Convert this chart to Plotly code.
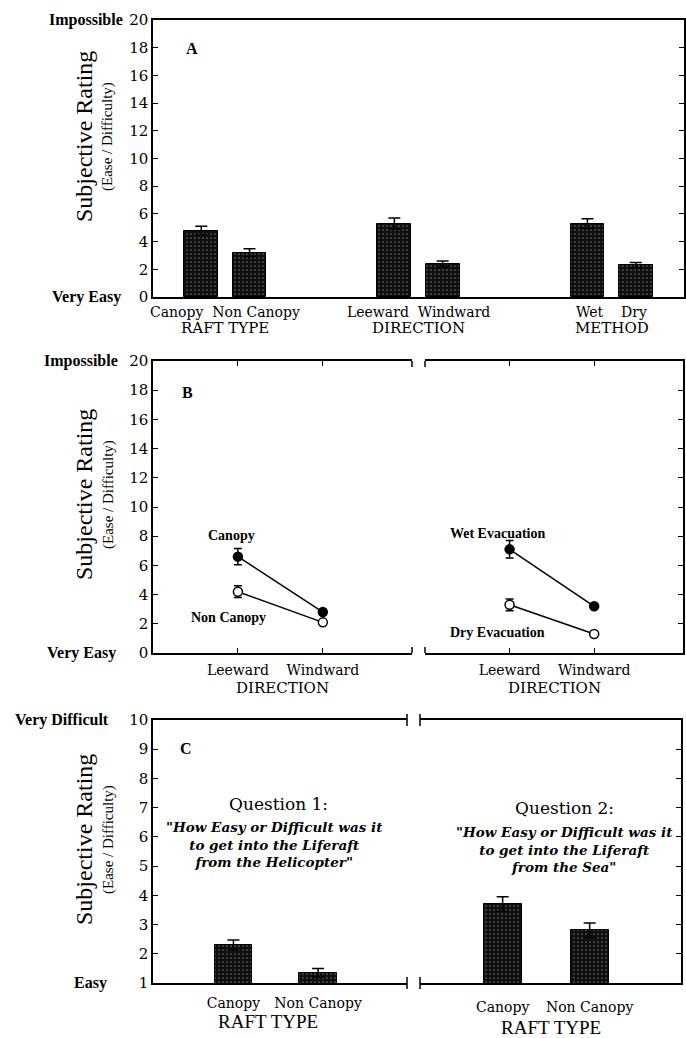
import plotly.graph_objects as go

W, H = 686, 1038

# ---------------- data ----------------
# Panel A
a_groups = ["RAFT TYPE", "DIRECTION", "METHOD"]
a_labels = ["Canopy", "Non Canopy", "Leeward", "Windward", "Wet", "Dry"]
a_group_of = [0, 0, 1, 1, 2, 2]
a_means = [4.8, 3.2, 5.3, 2.4, 5.3, 2.3]
a_err = [0.3, 0.28, 0.4, 0.2, 0.35, 0.2]

# Panel B
b_x = ["Leeward", "Windward"]
b_canopy = [6.6, 2.8]
b_canopy_err = [0.55, 0.2]
b_noncanopy = [4.2, 2.1]
b_noncanopy_err = [0.4, 0.12]
b_wet = [7.1, 3.2]
b_wet_err = [0.6, 0.15]
b_dry = [3.3, 1.3]
b_dry_err = [0.4, 0.12]

# Panel C
c_x = ["Canopy", "Non Canopy"]
c_q1 = [2.3, 1.35]
c_q1_err = [0.17, 0.15]
c_q2 = [3.7, 2.8]
c_q2_err = [0.25, 0.25]

q1_title = "Question 1:"
q1_text = ["\"How Easy or Difficult was it", "to get into the Liferaft", "from the Helicopter\""]
q2_title = "Question 2:"
q2_text = ["\"How Easy or Difficult was it", "to get into the Liferaft", "from the Sea\""]

# ---------------- helpers ----------------
def px(x):
    return x / W

def py(y):
    return 1 - y / H

SERIF = "DejaVu Serif"
TIMES = "Liberation Serif"
BLACK = "black"

bar_marker = dict(
    color="#101010",
    line=dict(color=BLACK, width=1),
    pattern=dict(shape=".", fgcolor="#c8c8c8", bgcolor="#101010", size=4, solidity=0.14),
)
bar_err = lambda arr: dict(type="data", array=arr, color=BLACK, thickness=1.5, width=6)

fig = go.Figure()

# positions for panel A computed from group membership
a_pos = []
for i, g in enumerate(a_group_of):
    k = a_group_of[:i].count(g)
    a_pos.append(g * 4 + k + 1)

fig.add_trace(go.Bar(x=a_pos, y=a_means, width=0.7, marker=bar_marker,
                     error_y=bar_err(a_err), xaxis="x", yaxis="y", showlegend=False))

# Panel B
def line_trace(x, y, e, filled, xa, ya):
    return go.Scatter(
        x=x, y=y, mode="lines+markers", xaxis=xa, yaxis=ya, showlegend=False,
        line=dict(color=BLACK, width=1.5),
        marker=dict(size=9, color=BLACK if filled else "white", line=dict(color=BLACK, width=1.5)),
        error_y=dict(type="data", array=e, color=BLACK, thickness=1.5, width=4),
    )

fig.add_trace(line_trace(b_x, b_canopy, b_canopy_err, True, "x2", "y2"))
fig.add_trace(line_trace(b_x, b_noncanopy, b_noncanopy_err, False, "x2", "y2"))
fig.add_trace(line_trace(b_x, b_wet, b_wet_err, True, "x3", "y3"))
fig.add_trace(line_trace(b_x, b_dry, b_dry_err, False, "x3", "y3"))

# Panel C
fig.add_trace(go.Bar(x=c_x, y=c_q1, width=0.44, marker=bar_marker,
                     error_y=bar_err(c_q1_err), xaxis="x4", yaxis="y4", showlegend=False))
fig.add_trace(go.Bar(x=c_x, y=c_q2, width=0.44, marker=bar_marker,
                     error_y=bar_err(c_q2_err), xaxis="x5", yaxis="y5", showlegend=False))

# ---------------- axes ----------------
tickfont = dict(family=SERIF, size=14, color=BLACK)
ytickfont = dict(family=SERIF, size=15, color=BLACK)
common = dict(showgrid=False, zeroline=False, showline=True, linecolor=BLACK, linewidth=1.5,
              tickcolor=BLACK, tickwidth=1.2, ticklen=5, automargin=False)
xc = dict(common, tickfont=tickfont)
yc = dict(common, tickfont=ytickfont)

A_x = [px(153), px(684)]
A_y = [py(297), py(20)]
BL_x = [px(153), px(412)]
BR_x = [px(425), px(683)]
B_y = [py(653), py(361)]
CL_x = [px(153), px(407)]
CR_x = [px(420), px(681)]
C_y = [py(983), py(720)]

fig.update_layout(
    width=W, height=H, margin=dict(l=0, r=0, t=0, b=0, pad=0, autoexpand=False),
    paper_bgcolor="white", plot_bgcolor="white", bargap=0, showlegend=False,
    font=dict(family=SERIF, color=BLACK),
    xaxis=dict(domain=A_x, anchor="y", range=[0, 11], mirror=True, ticks="",
               showticklabels=False, **xc),
    yaxis=dict(domain=A_y, anchor="x", range=[0, 20], dtick=2, ticks="inside",
               mirror="ticks", **yc),
    xaxis2=dict(domain=BL_x, anchor="y2", type="category", range=[-1, 2.05],
                mirror="ticks", ticks="inside", ticklabelstandoff=3, **xc),
    yaxis2=dict(domain=B_y, anchor="x2", range=[0, 20], dtick=2, ticks="inside",
                mirror=False, **yc),
    xaxis3=dict(domain=BR_x, anchor="y3", type="category", range=[-1, 2.05],
                mirror="ticks", ticks="inside", ticklabelstandoff=3, **xc),
    yaxis3=dict(domain=B_y, anchor="x3", range=[0, 20], dtick=2, ticks="inside",
                side="right", mirror=False, showticklabels=False, **yc),
    xaxis4=dict(domain=CL_x, anchor="y4", type="category", range=[-0.95, 2.05],
                mirror=True, ticks="", ticklabelstandoff=6, **xc),
    yaxis4=dict(domain=C_y, anchor="x4", range=[1, 10], dtick=1, ticks="inside",
                mirror=False, **yc),
    xaxis5=dict(domain=CR_x, anchor="y5", type="category", range=[-0.95, 2.05],
                mirror=True, ticks="", ticklabelstandoff=10, **xc),
    yaxis5=dict(domain=C_y, anchor="x5", range=[1, 10], dtick=1, ticks="inside",
                side="right", mirror=False, showticklabels=False, **yc),
)

ann = []

def text(x, y, s, size, family=SERIF, xanchor="center", yanchor="middle", bold=False,
         italic=False, angle=0, xref="paper", yref="paper"):
    if bold:
        s = "<b>" + s + "</b>"
    if italic:
        s = "<i>" + s + "</i>"
    ann.append(dict(x=x, y=y, xref=xref, yref=yref, text=s, showarrow=False,
                    xanchor=xanchor, yanchor=yanchor, textangle=angle,
                    font=dict(family=family, size=size, color=BLACK)))

# group labels for panel A, built from the category lists
for g, name in enumerate(a_groups):
    idx = [i for i, gg in enumerate(a_group_of) if gg == g]
    sep = "&nbsp;" * (2 if g < 2 else 4)
    line1 = sep.join(a_labels[i] for i in idx)
    center = sum(a_pos[i] for i in idx) / len(idx)
    text(center, py(312), line1, 14, xref="x")
    text(center, py(328), name, 15, xref="x")

# B axis titles
text((BL_x[0] + BL_x[1]) / 2, py(688), "DIRECTION", 15)
text((BR_x[0] + BR_x[1]) / 2, py(688), "DIRECTION", 15)
# C axis titles
text((CL_x[0] + CL_x[1]) / 2 - px(12), py(1021), "RAFT TYPE", 19, family=TIMES)
text((CR_x[0] + CR_x[1]) / 2, py(1027), "RAFT TYPE", 19, family=TIMES)

# y-axis end descriptors
text(px(125), 20, "Impossible", 16, family=TIMES, xanchor="right", bold=True, yref="y")
text(px(123), 0, "Very Easy", 16, family=TIMES, xanchor="right", bold=True, yref="y")
text(px(120), 20, "Impossible", 16, family=TIMES, xanchor="right", bold=True, yref="y2")
text(px(118), 0, "Very Easy", 16, family=TIMES, xanchor="right", bold=True, yref="y2")
text(px(111), 10, "Very Difficult", 16, family=TIMES, xanchor="right", bold=True, yref="y4")
text(px(109), 1, "Easy", 16, family=TIMES, xanchor="right", bold=True, yref="y4")

# y-axis titles
for cy in (137, 495, 840):
    text(px(84), py(cy), "Subjective Rating", 24, family=TIMES, angle=-90)
    text(px(108), py(cy), "(Ease / Difficulty)", 15, family=TIMES, angle=-90)

# panel letters
text(px(192), py(49), "A", 16, family=TIMES, bold=True)
text(px(187), py(392), "B", 16, family=TIMES, bold=True)
text(px(186), py(748), "C", 16, family=TIMES, bold=True)

# series labels in B
text(px(232), py(535), "Canopy", 14, family=TIMES, bold=True)
text(px(228), py(617), "Non Canopy", 14, family=TIMES, bold=True)
text(px(497), py(533), "Wet Evacuation", 14, family=TIMES, bold=True)
text(px(497), py(632), "Dry Evacuation", 14, family=TIMES, bold=True)

# question texts in C
text(px(278), py(804), q1_title, 17)
text(px(274), py(844), "<br>".join(q1_text), 13.5, bold=True, italic=True)
text(px(564), py(808), q2_title, 17)
text(px(564), py(849), "<br>".join(q2_text), 13.5, bold=True, italic=True)

fig.update_layout(annotations=ann)

# broken-axis markers
shapes = []
def seg(x0, y0, x1, y1):
    shapes.append(dict(type="line", xref="paper", yref="paper", x0=px(x0), y0=py(y0),
                       x1=px(x1), y1=py(y1), line=dict(color=BLACK, width=1.5)))

for xb in (412, 425):
    seg(xb, 361, xb, 367)
    seg(xb, 653, xb, 647)
for xb in (407, 420):
    seg(xb, 714, xb, 726)
    seg(xb, 977, xb, 989)

fig.update_layout(shapes=shapes)

fig.write_html(
    "out.html",
    config={"displayModeBar": False},
    post_script="document.body.style.margin='0px';document.body.style.overflow='hidden';",
)
